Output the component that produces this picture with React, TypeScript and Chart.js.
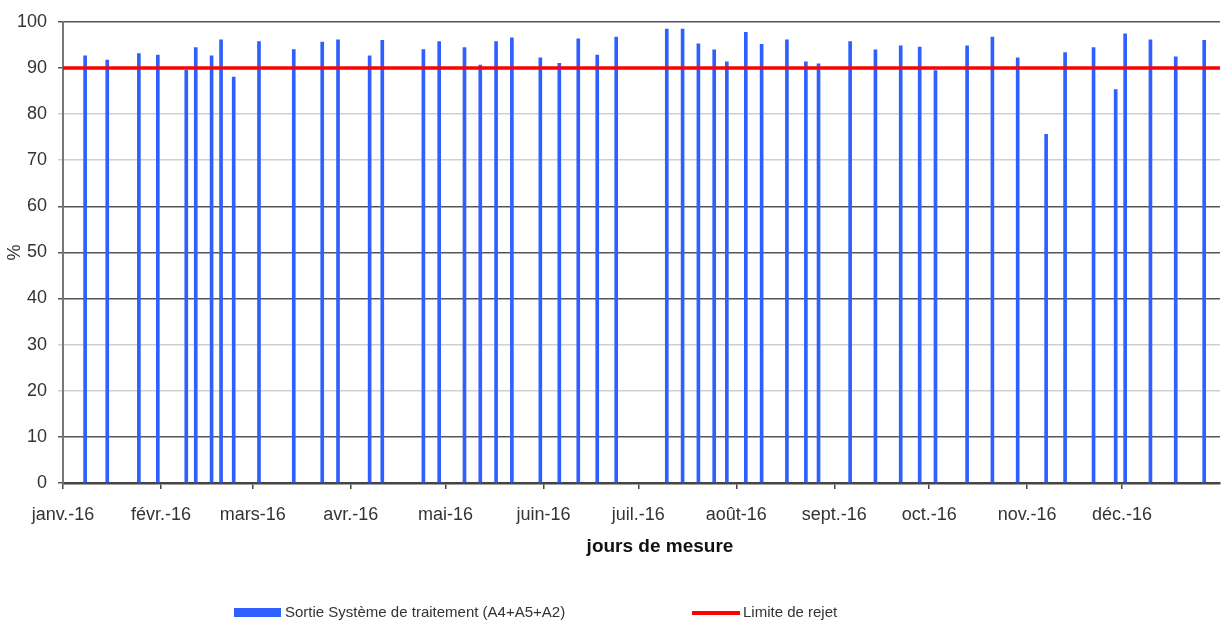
import { useEffect, useRef } from 'react';
import { Chart, registerables } from 'chart.js';

Chart.register(...registerables);

// Measurement days (2016) and measured percentages
const MEASURE_DATES = [
  '2016-01-08', '2016-01-15', '2016-01-25', '2016-01-31', '2016-02-09', '2016-02-12',
  '2016-02-17', '2016-02-20', '2016-02-24', '2016-03-03', '2016-03-14', '2016-03-23',
  '2016-03-28', '2016-04-07', '2016-04-11', '2016-04-24', '2016-04-29', '2016-05-07',
  '2016-05-12', '2016-05-17', '2016-05-22', '2016-05-31', '2016-06-06', '2016-06-12',
  '2016-06-18', '2016-06-24', '2016-07-10', '2016-07-15', '2016-07-20', '2016-07-25',
  '2016-07-29', '2016-08-04', '2016-08-09', '2016-08-17', '2016-08-23', '2016-08-27',
  '2016-09-06', '2016-09-14', '2016-09-22', '2016-09-28', '2016-10-03', '2016-10-13',
  '2016-10-21', '2016-10-29', '2016-11-07', '2016-11-13', '2016-11-22', '2016-11-29',
  '2016-12-02', '2016-12-10', '2016-12-18', '2016-12-27',
];

const MEASURE_VALUES = [
  92.6, 91.7, 93.1, 92.8, 89.5, 94.4,
  92.6, 96.1, 88.0, 95.7, 94.0, 95.6,
  96.1, 92.6, 96.0, 94.0, 95.7, 94.4,
  90.6, 95.7, 96.5, 92.2, 91.0, 96.3,
  92.8, 96.7, 98.4, 98.4, 95.2, 93.9,
  91.3, 97.7, 95.1, 96.1, 91.3, 90.9,
  95.7, 93.9, 94.8, 94.5, 89.4, 94.8,
  96.7, 92.2, 75.6, 93.3, 94.4, 85.3,
  97.4, 96.1, 92.4, 96.0,
];

const LIMIT_VALUE = 90;

const MONTH_STARTS = [
  '2016-01-01', '2016-02-01', '2016-03-01', '2016-04-01', '2016-05-01', '2016-06-01',
  '2016-07-01', '2016-08-01', '2016-09-01', '2016-10-01', '2016-11-01', '2016-12-01',
];
const MONTH_LABELS = [
  'janv.-16', 'févr.-16', 'mars-16', 'avr.-16', 'mai-16', 'juin-16',
  'juil.-16', 'août-16', 'sept.-16', 'oct.-16', 'nov.-16', 'déc.-16',
];
const AXIS_START = '2016-01-01';
const AXIS_END = '2017-01-01';

const Y_TICKS_LIGHT = [20, 30, 70, 80];

const SERIES_LABEL = 'Sortie Système de traitement (A4+A5+A2)';
const LIMIT_LABEL = 'Limite de rejet';
const X_TITLE = 'jours de mesure';
const Y_TITLE = '%';

const BAR_COLOR = '#2f5fff';
const LIMIT_COLOR = '#ff0000';
const FONT = "'Liberation Sans', Arial, sans-serif";

function dayIndex(iso: string): number {
  const [y, m, d] = iso.split('-').map(Number);
  const [y0, m0, d0] = AXIS_START.split('-').map(Number);
  return (Date.UTC(y, m - 1, d) - Date.UTC(y0, m0 - 1, d0)) / 86400000;
}

export default function App() {
  const canvasRef = useRef<HTMLCanvasElement | null>(null);

  useEffect(() => {
    if (!canvasRef.current) return;
    const xMin = dayIndex(AXIS_START);
    const xMax = dayIndex(AXIS_END);

    const chart = new Chart(canvasRef.current, {
      type: 'bar',
      data: {
        datasets: [
          {
            type: 'line',
            label: LIMIT_LABEL,
            data: [
              { x: xMin, y: LIMIT_VALUE },
              { x: xMax, y: LIMIT_VALUE },
            ],
            borderColor: LIMIT_COLOR,
            backgroundColor: LIMIT_COLOR,
            borderWidth: 3.5,
            pointRadius: 0,
            order: 0,
          } as any,
          {
            type: 'bar',
            label: SERIES_LABEL,
            data: MEASURE_DATES.map((d, i) => ({ x: dayIndex(d), y: MEASURE_VALUES[i] })),
            backgroundColor: BAR_COLOR,
            barThickness: 3,
            order: 1,
          } as any,
        ],
      },
      options: {
        animation: false,
        responsive: true,
        maintainAspectRatio: false,
        layout: { padding: { left: 0, right: 1, top: 17, bottom: 64 } },
        plugins: {
          legend: { display: false },
          tooltip: { enabled: false },
        },
        scales: {
          x: {
            type: 'linear',
            offset: false,
            min: xMin,
            max: xMax,
            afterBuildTicks: (scale: any) => {
              scale.ticks = MONTH_STARTS.map((d) => ({ value: dayIndex(d) }));
            },
            afterFit: (scale: any) => {
              scale.height = 81;
            },
            ticks: {
              autoSkip: false,
              maxRotation: 0,
              padding: 15,
              color: '#333',
              font: { family: FONT, size: 18 },
              callback: (_v: any, i: number) => MONTH_LABELS[i],
            },
            grid: {
              display: true,
              offset: false,
              drawOnChartArea: false,
              drawTicks: true,
              tickLength: 6,
              color: '#444',
              lineWidth: 1.5,
            },
            border: { display: true, color: '#444', width: 2.5 },
            title: { display: false },
          },
          y: {
            min: 0,
            max: 100,
            afterFit: (scale: any) => {
              scale.width = 63;
            },
            ticks: {
              stepSize: 10,
              padding: 11,
              color: '#333',
              font: { family: FONT, size: 18 },
            },
            grid: {
              color: (ctx: any) =>
                Y_TICKS_LIGHT.includes(ctx.tick?.value) ? '#cfcfcf' : '#555',
              lineWidth: 1.5,
              tickLength: 5,
            },
            border: { display: true, color: '#777', width: 2 },
            title: {
              display: true,
              text: Y_TITLE,
              color: '#333',
              font: { family: FONT, size: 18 },
              padding: { top: 4, bottom: 0 },
            },
          },
        },
      } as any,
    });

    return () => chart.destroy();
  }, []);

  return (
    <div
      style={{
        position: 'fixed',
        left: 0,
        top: 0,
        width: 1221,
        height: 628,
        background: '#fff',
        fontFamily: FONT,
      }}
    >
      <div style={{ position: 'absolute', left: 0, top: 0, width: 1221, height: 628 }}>
        <canvas ref={canvasRef} />
      </div>
      <div
        style={{
          position: 'absolute',
          left: 540,
          top: 535,
          width: 240,
          textAlign: 'center',
          fontSize: 19,
          fontWeight: 'bold',
          lineHeight: '22px',
          color: '#111',
          whiteSpace: 'nowrap',
        }}
      >
        {X_TITLE}
      </div>
      <div
        style={{
          position: 'absolute',
          left: 234,
          top: 608,
          width: 47,
          height: 9,
          background: BAR_COLOR,
        }}
      />
      <div
        style={{
          position: 'absolute',
          left: 285,
          top: 603,
          fontSize: 15,
          lineHeight: '18px',
          color: '#333',
          whiteSpace: 'nowrap',
        }}
      >
        {SERIES_LABEL}
      </div>
      <div
        style={{
          position: 'absolute',
          left: 692,
          top: 611,
          width: 48,
          height: 4,
          background: LIMIT_COLOR,
        }}
      />
      <div
        style={{
          position: 'absolute',
          left: 743,
          top: 603,
          fontSize: 15,
          lineHeight: '18px',
          color: '#333',
          whiteSpace: 'nowrap',
        }}
      >
        {LIMIT_LABEL}
      </div>
    </div>
  );
}
